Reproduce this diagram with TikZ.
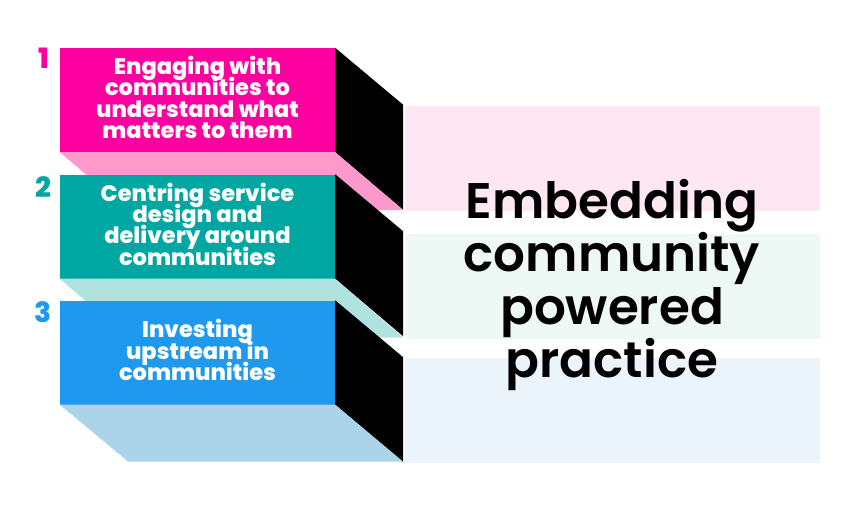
\documentclass[tikz,border=0pt]{standalone}
\usepackage{fontspec}
\setmainfont{Poppins}
\newfontfamily\popbold{Poppins ExtraBold}
\newfontfamily\popsemi{Poppins SemiBold}
\newcommand\myboxfont{\popbold\fontsize{22.5}{21.3}\selectfont\lineskiplimit=-30pt\relax}
\definecolor{magA}{HTML}{FF00A0}
\definecolor{magB}{HTML}{FF99CC}
\definecolor{magP}{HTML}{FFE6F3}
\definecolor{tealA}{HTML}{00A6A1}
\definecolor{tealB}{HTML}{B0E3DF}
\definecolor{tealP}{HTML}{EEF8F5}
\definecolor{blueA}{HTML}{1E99EE}
\definecolor{blueB}{HTML}{ABD4EA}
\definecolor{blueP}{HTML}{ECF4FB}
\tikzset{
  front/.style={fill=#1, draw=none, minimum width=275pt, minimum height=104pt, inner sep=0pt},
  boxtext/.style={text=white, align=center, inner sep=0pt, font=\myboxfont},
  panel/.style={fill=#1, draw=none, minimum width=415pt, minimum height=105pt, inner sep=0pt},
  numlabel/.style={text=#1, font=\popbold\fontsize{28}{28}\selectfont, inner sep=0pt, anchor=north},
  sideface/.style={fill=black, draw=none},
  bottomface/.style={fill=#1, draw=none},
}
\begin{document}
\begin{tikzpicture}[x=1pt,y=-1pt]
\useasboundingbox[fill=white] (0,0) rectangle (860,522);
% right panels
\node[panel=magP] (p1) at (612.5,158) {};
\node[panel=tealP] (p2) at (612.5,286) {};
\node[panel=blueP] (p3) at (612.5,410) {};
% box 1
\node[front=magA] (b1) at (197.5,100) {};
\fill[sideface] (b1.north east) -- ++(68,57) -- ++(0,105) -- (b1.south east) -- cycle;
\fill[bottomface=magB] (b1.south west) -- (b1.south east) -- ++(68,58) -- ++(-275,0) -- cycle;
\node[boxtext] (t1) at ([yshift=2.5pt]b1.center) {Engaging with\\communities to\\understand what\\matters to them};
\node[numlabel=magA] (n1) at (43.5,48) {1};
% box 2
\node[front=tealA] (b2) at (197.5,226.5) {};
\fill[sideface] (b2.north east) -- ++(68,57) -- ++(0,105) -- (b2.south east) -- cycle;
\fill[bottomface=tealB] (b2.south west) -- (b2.south east) -- ++(68,59) -- ++(-275,0) -- cycle;
\node[boxtext] (t2) at ([yshift=2.5pt]b2.center) {Centring service\\design and\\delivery around\\communities};
\node[numlabel=tealA] (n2) at (43.5,176) {2};
% box 3
\node[front=blueA] (b3) at (197.5,352.5) {};
\fill[sideface] (b3.north east) -- ++(68,57) -- ++(0,105) -- (b3.south east) -- cycle;
\fill[bottomface=blueB] (b3.south west) -- (b3.south east) -- ++(68,57) -- ++(-275,0) -- cycle;
\node[boxtext] (t3) at ([yshift=2.5pt]b3.center) {Investing\\upstream in\\communities};
\node[numlabel=blueA] (n3) at (43.5,301) {3};
% title
\node[align=center, inner sep=0pt, font=\popsemi\fontsize{50}{53}\selectfont] (title) at (612,285) {Embedding\\community\\powered\\practice};
\end{tikzpicture}
\end{document}
